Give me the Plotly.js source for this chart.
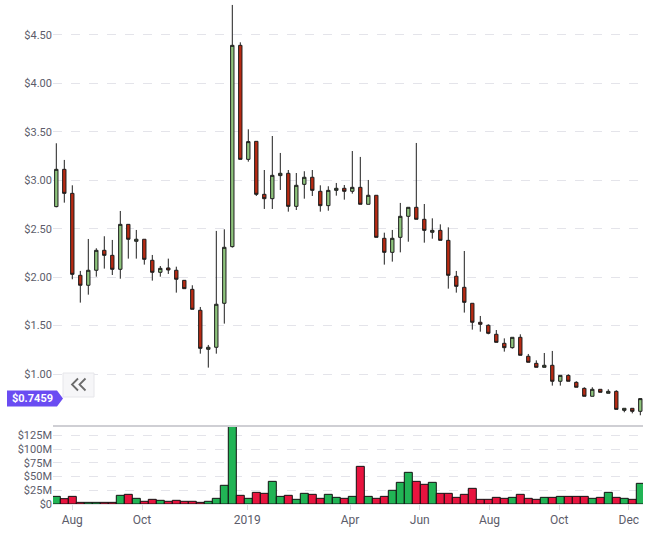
<!DOCTYPE html>
<html>
<head>
<meta charset="utf-8">
<script src="https://cdn.plot.ly/plotly-3.0.1.min.js"></script>
<style>html,body{margin:0;padding:0;background:#fff}#chart{width:647px;height:534px}</style>
</head>
<body>
<div id="chart"></div>
<script>
const dates = ["2018-07-18","2018-07-25","2018-08-01","2018-08-08","2018-08-15","2018-08-22","2018-08-29","2018-09-05","2018-09-12","2018-09-19","2018-09-26","2018-10-03","2018-10-10","2018-10-17","2018-10-24","2018-10-31","2018-11-07","2018-11-14","2018-11-21","2018-11-28","2018-12-05","2018-12-12","2018-12-19","2018-12-26","2019-01-02","2019-01-09","2019-01-16","2019-01-23","2019-01-30","2019-02-06","2019-02-13","2019-02-20","2019-02-27","2019-03-06","2019-03-13","2019-03-20","2019-03-27","2019-04-03","2019-04-10","2019-04-17","2019-04-24","2019-05-01","2019-05-08","2019-05-15","2019-05-22","2019-05-29","2019-06-05","2019-06-12","2019-06-19","2019-06-26","2019-07-03","2019-07-10","2019-07-17","2019-07-24","2019-07-31","2019-08-07","2019-08-14","2019-08-21","2019-08-28","2019-09-04","2019-09-11","2019-09-18","2019-09-25","2019-10-02","2019-10-09","2019-10-16","2019-10-23","2019-10-30","2019-11-06","2019-11-13","2019-11-20","2019-11-27","2019-12-04","2019-12-11"];

const openP = [2.728,3.113,2.865,2.019,1.916,2.071,2.277,2.225,2.081,2.545,2.370,2.391,2.174,2.050,2.095,2.071,1.967,1.874,1.658,1.255,1.276,1.730,2.315,4.393,3.216,3.402,2.855,2.810,3.048,3.072,2.731,2.958,3.031,2.886,2.738,2.896,2.917,2.886,2.927,2.752,2.845,2.401,2.256,2.411,2.628,2.721,2.597,2.463,2.483,2.380,2.009,1.895,1.730,1.534,1.503,1.410,1.317,1.272,1.379,1.183,1.110,1.069,1.090,0.925,0.986,0.914,0.852,0.770,0.842,0.801,0.821,0.625,0.646,0.615];
const highP = [3.382,3.210,2.948,2.064,2.394,2.298,2.422,2.384,2.683,2.545,2.487,2.391,2.229,2.115,2.191,2.108,1.967,1.916,1.692,1.300,2.477,2.494,4.810,4.424,3.526,3.402,3.106,3.457,3.282,3.106,3.075,3.093,3.106,2.948,2.938,2.972,2.951,3.302,3.241,3.003,2.845,2.459,2.487,2.766,2.721,3.385,2.755,2.607,2.545,2.514,2.064,2.270,1.730,1.599,1.513,1.454,1.368,1.379,1.410,1.207,1.141,1.217,1.238,0.986,0.997,0.925,0.863,0.863,0.842,0.842,0.832,0.646,0.646,0.749];
const lowP = [2.721,2.769,1.978,1.737,1.819,2.005,2.088,2.022,1.984,2.191,2.191,2.129,1.964,2.005,2.033,1.840,1.881,1.668,1.210,1.066,1.210,1.520,2.305,3.216,3.192,2.838,2.704,2.704,2.900,2.676,2.693,2.810,2.838,2.676,2.686,2.841,2.800,2.862,2.752,2.752,2.411,2.129,2.160,2.256,2.366,2.597,2.356,2.397,2.380,1.881,1.840,1.634,1.458,1.437,1.410,1.327,1.231,1.262,1.193,1.121,1.069,1.069,0.880,0.880,0.925,0.863,0.770,0.770,0.811,0.801,0.635,0.605,0.594,0.574];
const closeP = [3.113,2.865,2.029,1.916,2.071,2.277,2.225,2.081,2.545,2.391,2.391,2.184,2.050,2.091,2.074,1.978,1.881,1.668,1.265,1.276,1.720,2.308,4.393,3.216,3.399,2.855,2.810,3.051,3.072,2.731,2.948,3.031,2.896,2.738,2.896,2.917,2.886,2.927,2.752,2.845,2.411,2.256,2.401,2.628,2.721,2.597,2.483,2.483,2.380,2.019,1.905,1.740,1.534,1.513,1.420,1.327,1.272,1.379,1.193,1.121,1.069,1.090,0.925,0.986,0.925,0.863,0.770,0.842,0.811,0.821,0.635,0.646,0.615,0.7459];

// volume in millions USD
const volumeM = [13.9,9.7,13.9,3.0,3.0,3.0,3.0,3.0,15.8,17.6,10.3,4.9,8.5,6.7,4.9,6.7,4.9,4.9,3.0,4.9,10.3,34.0,141.3,15.8,10.3,21.2,19.4,41.2,13.9,15.8,8.5,19.4,17.6,10.3,17.6,12.1,10.3,13.9,68.5,13.9,10.3,13.9,24.9,39.4,57.6,41.2,35.8,39.4,19.4,19.4,12.1,17.6,28.5,8.5,8.5,12.1,10.3,12.1,17.6,10.3,8.5,12.1,12.1,13.9,13.9,13.9,13.9,10.3,12.1,21.2,12.1,10.3,8.5,37.6];

const xTickVals = ["2018-08-01","2018-10-01","2019-01-01","2019-04-01","2019-06-01","2019-08-01","2019-10-01","2019-12-01"];
const xTickText = ["Aug","Oct","2019","Apr","Jun","Aug","Oct","Dec"];
const priceTickVals = [1.0,1.5,2.0,2.5,3.0,3.5,4.0,4.5];
const priceTickText = ["$1.00","$1.50","$2.00","$2.50","$3.00","$3.50","$4.00","$4.50"];
const volTickVals = [0,25,50,75,100,125];
const volTickText = ["$0","$25M","$50M","$75M","$100M","$125M"];

const UP_FILL = '#8ec47c', DOWN_FILL = '#b82a12';
const VOL_UP = '#21b455', VOL_DOWN = '#e8143f';
const volColors = closeP.map((c, i) => c >= openP[i] ? VOL_UP : VOL_DOWN);
const lastPrice = closeP[closeP.length - 1];

const W = 647, H = 534, ML = 53, MR = 4, MT = 0, MB = 30;
const PW = W - ML - MR, PH = H - MT - MB;
const px = x => (x - ML) / PW;
const py = y => (MT + PH - y) / PH;

const candle = {
  type: 'candlestick', x: dates, open: openP, high: highP, low: lowP, close: closeP,
  xaxis: 'x2', yaxis: 'y2',
  increasing: {fillcolor: UP_FILL, line: {color: '#1e1e1e', width: 1}},
  decreasing: {fillcolor: DOWN_FILL, line: {color: '#1e1e1e', width: 1}},
  whiskerwidth: 0, hoverinfo: 'skip', showlegend: false
};
const vol = {
  type: 'bar', x: dates, y: volumeM, xaxis: 'x', yaxis: 'y',
  marker: {color: volColors, line: {color: '#111', width: 1}},
  hoverinfo: 'skip', showlegend: false
};

const tickFont = {family: 'Roboto, sans-serif', size: 11, color: '#5c5c6a'};
const xRange = ['2018-07-15 02:40', '2019-12-13 08:38'];

const chevColor = '#6b6b6b';
const layout = {
  width: W, height: H,
  margin: {l: ML, r: MR, t: MT, b: MB},
  paper_bgcolor: '#fff', plot_bgcolor: '#fff',
  bargap: 0, boxgap: 0.4,
  showlegend: false,
  xaxis: {
    type: 'date', range: xRange, anchor: 'y', domain: [0, 1],
    tickvals: xTickVals, ticktext: xTickText,
    ticks: 'outside', ticklen: 5, tickcolor: '#dcdce2',
    showline: true, linecolor: '#e4e4e8', linewidth: 1,
    showgrid: false, zeroline: false,
    tickfont: {family: 'Roboto, sans-serif', size: 12, color: '#5c5c6a'},
    rangeslider: {visible: false}, fixedrange: true
  },
  xaxis2: {
    type: 'date', range: xRange, anchor: 'y2', matches: 'x', domain: [0, 1],
    showticklabels: false, ticks: '', showgrid: false, zeroline: false,
    showline: true, linecolor: '#cfcfd4', linewidth: 2,
    rangeslider: {visible: false}
  },
  yaxis: {
    domain: [0, 78 / PH], range: [0, 141.9],
    tickvals: volTickVals, ticktext: volTickText,
    showgrid: true, gridcolor: '#e4e4ea', griddash: 'dash', gridwidth: 1,
    zeroline: false, showline: false, ticks: '',
    tickfont: tickFont
  },
  yaxis2: {
    domain: [79 / PH, 1], range: [0.4736, 4.861],
    tickvals: priceTickVals, ticktext: priceTickText,
    showgrid: true, gridcolor: '#e4e4ea', griddash: 'dash', gridwidth: 1,
    zeroline: false, showline: false, ticks: '',
    tickfont: tickFont
  },
  shapes: [
    // price badge (rect + arrow) anchored to last price
    {type: 'path', xref: 'paper', yref: 'y2', xsizemode: 'pixel', ysizemode: 'pixel',
     xanchor: 0, yanchor: lastPrice,
     path: 'M -46,8 L 4,8 L 10,0 L 4,-8 L -46,-8 Z',
     fillcolor: '#6a4cf2', line: {width: 0}, layer: 'above'},
    // collapse button
    {type: 'rect', xref: 'paper', yref: 'paper',
     x0: px(63), x1: px(94), y0: py(397), y1: py(373),
     fillcolor: '#f6f6f8', line: {color: '#e6e6ea', width: 1}, layer: 'above'},
    {type: 'path', xref: 'paper', yref: 'paper',
     path: `M ${px(78)},${py(378.5)} L ${px(72)},${py(384.5)} L ${px(78)},${py(390.5)}`,
     line: {color: chevColor, width: 1.8}, layer: 'above'},
    {type: 'path', xref: 'paper', yref: 'paper',
     path: `M ${px(85.5)},${py(378.5)} L ${px(79.5)},${py(384.5)} L ${px(85.5)},${py(390.5)}`,
     line: {color: chevColor, width: 1.8}, layer: 'above'}
  ],
  annotations: [
    {xref: 'paper', yref: 'y2', x: px(32), y: lastPrice, xanchor: 'center', yanchor: 'middle',
     text: '<b>$' + lastPrice.toFixed(4) + '</b>', showarrow: false,
     font: {family: 'Roboto, sans-serif', size: 11, color: '#ffffff'}}
  ]
};

Plotly.newPlot('chart', [vol, candle], layout, {displayModeBar: false, staticPlot: true});
</script>
</body>
</html>
